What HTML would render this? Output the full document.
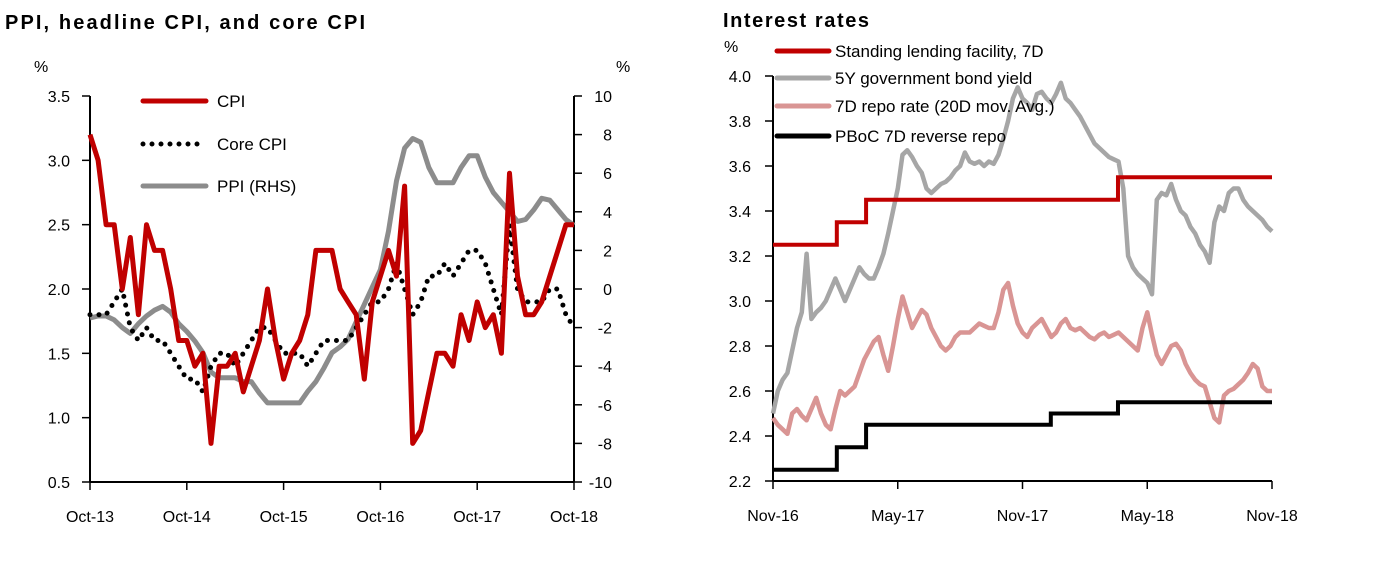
<!DOCTYPE html>
<html><head><meta charset="utf-8">
<style>
html,body{margin:0;padding:0;background:#fff;}
svg{display:block;font-family:"Liberation Sans",sans-serif;}
</style></head>
<body>
<svg id="chart" width="1373" height="573" viewBox="0 0 1373 573">
<text x="5" y="29" font-size="20" font-weight="bold" textLength="360" lengthAdjust="spacing">PPI, headline CPI, and core CPI</text>
<text x="723" y="27" font-size="20" font-weight="bold" textLength="146" lengthAdjust="spacing">Interest rates</text>
<g id="left"></g>
<g id="right"></g>
</svg>
<script>
// ---- Left chart data (monthly, Oct-13 .. Oct-18) ----
const leftXLabels = ["Oct-13","Oct-14","Oct-15","Oct-16","Oct-17","Oct-18"];
const leftYTicks = [0.5,1.0,1.5,2.0,2.5,3.0,3.5];
const rightYTicks = [-10,-8,-6,-4,-2,0,2,4,6,8,10];
const cpi = [3.2,3.0,2.5,2.5,2.0,2.4,1.8,2.5,2.3,2.3,2.0,1.6,1.6,1.4,1.5,0.8,1.4,1.4,1.5,1.2,1.4,1.6,2.0,1.6,1.3,1.5,1.6,1.8,2.3,2.3,2.3,2.0,1.9,1.8,1.3,1.9,2.1,2.3,2.1,2.8,0.8,0.9,1.2,1.5,1.5,1.4,1.8,1.6,1.9,1.7,1.8,1.5,2.9,2.1,1.8,1.8,1.9,2.1,2.3,2.5,2.5];
const coreCpi = [1.8,1.8,1.8,1.9,2.0,1.7,1.6,1.7,1.6,1.6,1.5,1.4,1.3,1.3,1.2,1.4,1.5,1.5,1.4,1.5,1.6,1.7,1.7,1.6,1.5,1.5,1.5,1.4,1.5,1.6,1.6,1.6,1.6,1.7,1.8,1.9,1.9,2.0,2.2,2.0,1.8,1.9,2.1,2.1,2.2,2.1,2.2,2.3,2.3,2.2,2.0,1.8,2.5,2.0,1.9,1.9,1.9,2.0,2.0,1.8,1.7];
const ppi = [-1.5,-1.4,-1.4,-1.6,-2.0,-2.3,-1.8,-1.4,-1.1,-0.9,-1.2,-1.8,-2.2,-2.7,-3.3,-4.3,-4.6,-4.6,-4.6,-4.8,-4.8,-5.4,-5.9,-5.9,-5.9,-5.9,-5.9,-5.3,-4.8,-4.1,-3.3,-3.0,-2.6,-1.7,-0.8,0.1,1.0,3.0,5.6,7.3,7.8,7.6,6.3,5.5,5.5,5.5,6.3,6.9,6.9,5.8,5.0,4.5,4.0,3.5,3.6,4.1,4.7,4.6,4.1,3.6,3.3];

// ---- Right chart data (weekly, Nov-16 .. Nov-18) ----
const rightXLabels = ["Nov-16","May-17","Nov-17","May-18","Nov-18"];
const rateTicks = [2.2,2.4,2.6,2.8,3.0,3.2,3.4,3.6,3.8,4.0];
const bond5y = [2.5,2.6,2.65,2.68,2.78,2.88,2.95,3.21,2.92,2.95,2.97,3.0,3.05,3.1,3.05,3.0,3.05,3.1,3.15,3.12,3.1,3.1,3.15,3.21,3.3,3.4,3.5,3.65,3.67,3.64,3.6,3.57,3.5,3.48,3.5,3.52,3.53,3.55,3.58,3.6,3.66,3.62,3.61,3.62,3.6,3.62,3.61,3.65,3.72,3.8,3.9,3.95,3.9,3.88,3.85,3.92,3.93,3.9,3.88,3.92,3.97,3.9,3.88,3.85,3.82,3.78,3.74,3.7,3.68,3.66,3.64,3.63,3.62,3.5,3.2,3.15,3.12,3.1,3.08,3.03,3.45,3.48,3.47,3.52,3.45,3.4,3.38,3.33,3.3,3.25,3.22,3.17,3.35,3.42,3.4,3.48,3.5,3.5,3.45,3.42,3.4,3.38,3.36,3.33,3.31];
const repo7d = [2.48,2.45,2.43,2.41,2.5,2.52,2.49,2.47,2.52,2.57,2.5,2.45,2.43,2.52,2.6,2.58,2.6,2.62,2.68,2.74,2.78,2.82,2.84,2.76,2.69,2.8,2.92,3.02,2.95,2.88,2.92,2.96,2.94,2.88,2.84,2.8,2.78,2.8,2.84,2.86,2.86,2.86,2.88,2.9,2.89,2.88,2.88,2.95,3.05,3.08,2.98,2.9,2.86,2.84,2.88,2.9,2.92,2.88,2.84,2.86,2.9,2.92,2.88,2.87,2.88,2.86,2.84,2.83,2.85,2.86,2.84,2.85,2.86,2.84,2.82,2.8,2.78,2.88,2.95,2.85,2.76,2.72,2.76,2.8,2.81,2.78,2.72,2.68,2.65,2.63,2.62,2.55,2.48,2.46,2.58,2.6,2.61,2.63,2.65,2.68,2.72,2.7,2.62,2.6,2.6];
const slfWeeks = [0,13.3,19.4,71.9,104];
const slfRates = [3.25,3.35,3.45,3.55,3.55];
const rrWeeks = [0,13.3,19.4,57.9,71.9,104];
const rrRates = [2.25,2.35,2.45,2.50,2.55,2.55];

const NS="http://www.w3.org/2000/svg";
function mk(parent,tag,attrs){const e=document.createElementNS(NS,tag);for(const k in attrs)e.setAttribute(k,attrs[k]);parent.appendChild(e);return e;}
function txt(parent,x,y,s,anchor,size){const t=mk(parent,"text",{x:x,y:y,"font-size":size||16,"text-anchor":anchor||"start"});t.textContent=s;return t;}
function pathD(arr,fx,fy){return arr.map((v,i)=>(i?"L":"M")+fx(i).toFixed(1)+","+fy(v).toFixed(1)).join("");}
function stepD(ws,vs,fx,fy){let d="";for(let i=0;i<ws.length;i++){const x=fx(ws[i]);if(i===0)d="M"+x+","+fy(vs[0]);else{d+="L"+x+","+fy(vs[i-1])+"L"+x+","+fy(vs[i]);}}return d;}

// ===== Left chart =====
const L=document.getElementById("left");
const lx0=90,lx1=574,ly0=482,ly1=96;
const lX=i=>lx0+(lx1-lx0)*i/(cpi.length-1);
const lY=v=>ly0-(v-0.5)/3.0*(ly0-ly1);
const rY=v=>ly0-(v+10)/20*(ly0-ly1);
let e;
e=mk(L,"line",{x1:lx0,y1:ly1,x2:lx0,y2:ly0,stroke:"#000","stroke-width":2});


e=mk(L,"line",{x1:lx1,y1:ly1,x2:lx1,y2:ly0,stroke:"#000","stroke-width":2});


e=mk(L,"line",{x1:lx0,y1:ly0,x2:lx1,y2:ly0,stroke:"#000","stroke-width":2});


leftYTicks.forEach(v=>{const y=lY(v);mk(L,"line",{x1:lx0-8,y1:y,x2:lx0,y2:y,stroke:"#000","stroke-width":1.5});
 e=txt(L,lx0-20,y+6,v.toFixed(1),"end",16);
 
 });
rightYTicks.forEach(v=>{const y=rY(v);mk(L,"line",{x1:lx1,y1:y,x2:lx1+8,y2:y,stroke:"#000","stroke-width":1.5});
 e=txt(L,lx1+38,y+6,String(v),"end",16);
 
 });
leftXLabels.forEach((s,k)=>{const x=lX(k*12);mk(L,"line",{x1:x,y1:ly0,x2:x,y2:ly0+8,stroke:"#000","stroke-width":1.5});
 e=txt(L,x,ly0+40,s,"middle",16);
 
 });
e=txt(L,34,72,"%","start",16);


e=txt(L,616,72,"%","start",16);


e=mk(L,"path",{d:pathD(ppi,lX,rY),fill:"none",stroke:"#8c8c8c","stroke-width":5,"stroke-linejoin":"round"});


e=mk(L,"path",{d:pathD(coreCpi,lX,lY),fill:"none",stroke:"#000","stroke-width":5,"stroke-linecap":"round","stroke-dasharray":"0 9"});


e=mk(L,"path",{d:pathD(cpi,lX,lY),fill:"none",stroke:"#c00000","stroke-width":5,"stroke-linejoin":"round"});


// legend
const lg=[["CPI","#c00000",null,101],["Core CPI","#000","0 9",144],["PPI (RHS)","#8c8c8c",null,186]];
lg.forEach(r=>{const g=mk(L,"g",{});
 
 
 const a={x1:143,y1:r[3],x2:206,y2:r[3],stroke:r[1],"stroke-width":5,"stroke-linecap":"round"};
 if(r[2])a["stroke-dasharray"]=r[2];
 mk(g,"line",a);txt(g,217,r[3]+6,r[0],"start",17);});

// ===== Right chart =====
const R=document.getElementById("right");
const rx0=773,rx1=1272,ry0=481,ry1=76;
const wX=w=>rx0+(rx1-rx0)*w/104;
const iX=i=>wX(i*104/(bond5y.length-1));
const vY=v=>ry0-(v-2.2)/1.8*(ry0-ry1);
e=mk(R,"line",{x1:rx0,y1:ry1,x2:rx0,y2:ry0,stroke:"#000","stroke-width":2});


e=mk(R,"line",{x1:rx0,y1:ry0,x2:rx1,y2:ry0,stroke:"#000","stroke-width":2});


rateTicks.forEach(v=>{const y=vY(v);mk(R,"line",{x1:rx0-8,y1:y,x2:rx0,y2:y,stroke:"#000","stroke-width":1.5});
 e=txt(R,rx0-22,y+6,v.toFixed(1),"end",16);
 
 });
rightXLabels.forEach((s,k)=>{const x=wX(k*26);mk(R,"line",{x1:x,y1:ry0,x2:x,y2:ry0+8,stroke:"#000","stroke-width":1.5});
 e=txt(R,x,ry0+40,s,"middle",16);
 
 });
e=txt(R,724,52,"%","start",16);


e=mk(R,"path",{d:pathD(repo7d,iX,vY),fill:"none",stroke:"#d99594","stroke-width":4.5,"stroke-linejoin":"round"});


e=mk(R,"path",{d:pathD(bond5y,iX,vY),fill:"none",stroke:"#a6a6a6","stroke-width":4.5,"stroke-linejoin":"round"});


e=mk(R,"path",{d:stepD(slfWeeks,slfRates,wX,vY),fill:"none",stroke:"#c00000","stroke-width":4});


e=mk(R,"path",{d:stepD(rrWeeks,rrRates,wX,vY),fill:"none",stroke:"#000","stroke-width":4});


const rl=[["Standing lending facility, 7D","#c00000",51],["5Y government bond yield","#a6a6a6",78],["7D repo rate (20D mov. Avg.)","#d99594",106],["PBoC 7D reverse repo","#000",136]];
rl.forEach(r=>{const g=mk(R,"g",{});
 
 
 mk(g,"line",{x1:777,y1:r[2],x2:829,y2:r[2],stroke:r[1],"stroke-width":5,"stroke-linecap":"round"});
 const t=txt(g,835,r[2]+6,r[0],"start",17);t.setAttribute("fill","#000");});
</script>
</body></html>
